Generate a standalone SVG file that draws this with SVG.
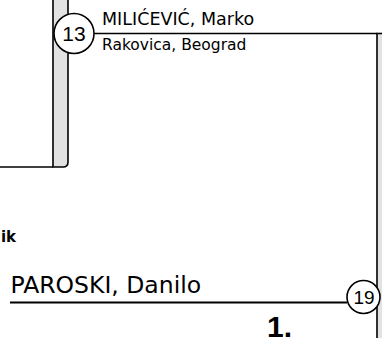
<svg xmlns="http://www.w3.org/2000/svg" width="382" height="338" viewBox="0 0 382 338">
<style>
.bar{fill:#e2e2e2;stroke:#000;stroke-width:1.6}
.ln{fill:none;stroke:#000;stroke-width:1.6}
.circ{fill:#fff;stroke:#000;stroke-width:1.6}
.num{font-family:"Liberation Sans",Arial,sans-serif;fill:#000;text-anchor:middle}
.nm{font-family:"DejaVu Sans",sans-serif;fill:#000}
</style>
<rect width="382" height="338" fill="#fff"/>
<g id="connectors">
<line class="ln" x1="0" y1="167" x2="53" y2="167"/>
<line class="ln" x1="94" y1="33.5" x2="377" y2="33.5"/>
<line class="ln" x1="10" y1="302.5" x2="347" y2="302.5" style="stroke-width:2"/>
</g>
<g id="bar-left">
<path class="bar" d="M53,-3 L53,167 L63,167 Q68,167 68,162 L68,-3"/>
</g>
<g id="bar-right">
<rect class="bar" x="377" y="33.5" width="12" height="310"/>
</g>
<g id="node-13">
<circle class="circ" cx="74" cy="33.5" r="20"/>
<text class="num" x="74" y="40.8" font-size="21">13</text>
<text class="nm" x="102" y="25" font-size="17.5">MILIĆEVIĆ, Marko</text>
<text class="nm" x="102" y="50" font-size="15.5">Rakovica, Beograd</text>
</g>
<g id="node-19">
<circle class="circ" cx="363.5" cy="297" r="16.5"/>
<text class="num" x="364" y="304" font-size="19">19</text>
<text class="nm" x="10.5" y="293" font-size="23.5">PAROSKI, Danilo</text>
</g>
<g id="label-ik">
<text x="16" y="242" font-family="'DejaVu Sans',sans-serif" font-weight="bold" font-size="15" text-anchor="end">ik</text>
</g>
<g id="label-1">
<text x="267" y="337" font-family="'Liberation Sans',Arial,sans-serif" font-weight="bold" font-size="30">1.</text>
</g>
</svg>
